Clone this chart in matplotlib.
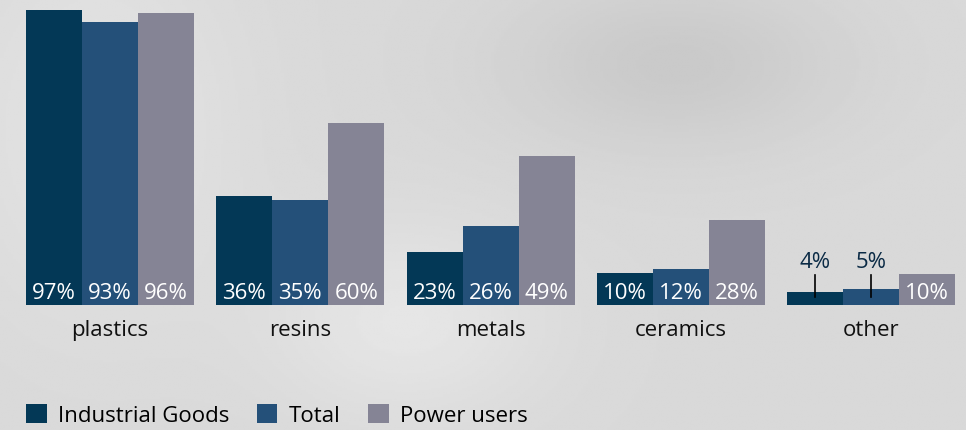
import numpy as np
import matplotlib.pyplot as plt

plt.rcParams['font.family'] = ['Open Sans', 'DejaVu Sans']

categories = ['plastics', 'resins', 'metals', 'ceramics', 'other']
series = ['Industrial Goods', 'Total', 'Power users']
labels = [[97, 36, 23, 10, 4],
          [93, 35, 26, 12, 5],
          [96, 60, 49, 28, 10]]
# bar heights as drawn in the picture (the metals bar is shorter than its label)
heights = [[97, 36, 17.5, 10.5, 4.2],
           [93, 34.5, 26, 12, 5.2],
           [96, 60, 49, 28, 10.2]]
colors = ['#033856', '#245079', '#858495']

fig = plt.figure(figsize=(9.66, 4.31), dpi=100)

# blurry grey backdrop
bg = fig.add_axes([0, 0, 1, 1])
yy, xx = np.mgrid[0:1:200j, 0:1:400j]
img = 0.85 + 0.05 * np.exp(-((xx - 0.42) ** 2 / 0.02 + (yy - 0.75) ** 2 / 0.05)) \
    - 0.06 * np.exp(-((xx - 0.7) ** 2 / 0.03 + (yy - 0.15) ** 2 / 0.04)) \
    + 0.04 * np.exp(-((xx - 0.1) ** 2 / 0.02 + (yy - 0.3) ** 2 / 0.2))
bg.imshow(img, cmap='gray', vmin=0, vmax=1, aspect='auto', extent=[0, 1, 0, 1])
bg.axis('off')

ax = fig.add_axes([0, 0, 1, 1])
ax.patch.set_alpha(0)
ax.axis('off')
ax.set_xlim(-0.578, 4.498)
ax.set_ylim(-41.1, 100.7)

w = 0.294
x = np.arange(len(categories))
for i, s in enumerate(series):
    xs = x + (i - 1) * w
    ax.bar(xs, heights[i], width=w, color=colors[i], label=s)
    for j, v in enumerate(labels[i]):
        if heights[i][j] >= 9.5:
            ax.text(xs[j], 2.2, '%d%%' % v, ha='center', va='baseline',
                    color='white', fontsize=16)
        else:
            ax.plot([xs[j], xs[j]], [2.6, 9.9], color='black', lw=1.2)
            ax.text(xs[j], 12.5, '%d%%' % v, ha='center', va='baseline',
                    color='#0a2a45', fontsize=16)

for j, c in enumerate(categories):
    ax.text(x[j], -8, c, ha='center', va='center', color='#111111', fontsize=16)

ax.legend(loc='lower left', bbox_to_anchor=(0.018, -0.012), ncol=3, frameon=False,
          fontsize=16, handlelength=0.92, handleheight=0.92, handletextpad=0.5,
          columnspacing=1.25, borderaxespad=0)

fig.savefig('out.png', dpi=100)
